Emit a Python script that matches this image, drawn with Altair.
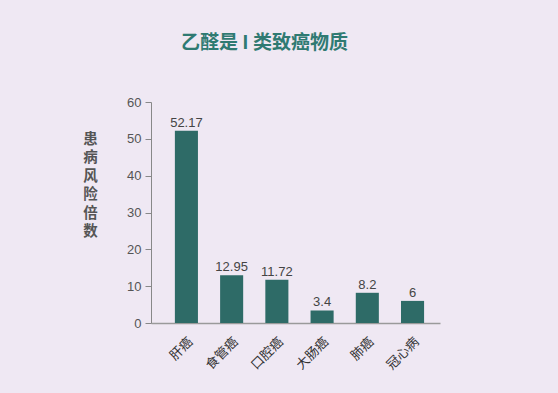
import altair as alt
import pandas as pd

categories = ["肝癌", "食管癌", "口腔癌", "大肠癌", "肺癌", "冠心病"]
values = [52.17, 12.95, 11.72, 3.4, 8.2, 6]
labels = ["52.17", "12.95", "11.72", "3.4", "8.2", "6"]
y_ticks = [0, 10, 20, 30, 40, 50, 60]

df = pd.DataFrame({"cat": categories, "val": values, "lab": labels})
FONT = "Noto Sans CJK SC"

x = alt.X("cat:N", sort=categories,
          scale=alt.Scale(paddingInner=0.49, paddingOuter=0.44, align=0.6),
          axis=alt.Axis(title=None, labelAngle=-45, labelFontSize=13, labelColor="#333",
                        labelFont=FONT, ticks=False, domainColor="#9a9a9a", domainWidth=1.5,
                        labelPadding=12))
y = alt.Y("val:Q", scale=alt.Scale(domain=[0, 60], nice=False),
          axis=alt.Axis(values=y_ticks, tickCount=7, labelOverlap=False,
                        title=list("患病风险倍数"), titleAngle=0,
                        titleX=-61, titleY=30, titleAlign="center", titleBaseline="top",
                        titleFontSize=14.5, titleLineHeight=18.5, titleFontWeight="bold",
                        titleColor="#555", titleFont=FONT,
                        labelFontSize=13, labelColor="#555", labelFont="Liberation Sans",
                        tickSize=6, tickColor="#888", domainColor="#888", grid=False,
                        labelPadding=4))

base = alt.Chart(df).encode(x=x, y=y)
bars = base.mark_bar(color="#2e6b67")
text = base.mark_text(dy=-8, fontSize=13, color="#444", font="Liberation Sans").encode(text="lab:N")

chart = (bars + text).properties(
    width=289, height=221,
    background="#efe8f3",
    autosize=alt.AutoSizeParams(type="none"),
    padding={"left": 151, "top": 102, "right": 118, "bottom": 70},
    title=alt.TitleParams("乙醛是 I 类致癌物质", font=FONT, fontSize=19, fontWeight="bold",
                          color="#2f7a72", anchor="middle", dx=-31, offset=43),
).configure_view(stroke=None)

chart.save("out.html", embed_options={"renderer": "svg", "actions": False})
